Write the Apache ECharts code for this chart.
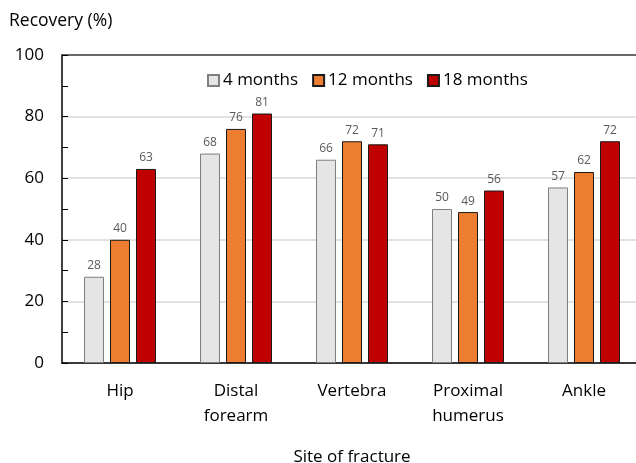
<!DOCTYPE html>
<html>
<head>
<meta charset="utf-8">
<script src="https://cdn.jsdelivr.net/npm/echarts@6/dist/echarts.min.js"></script>
<style>
  html, body { margin: 0; padding: 0; background: #fff; }
  #chart { width: 636px; height: 463px; }
</style>
</head>
<body>
<div id="chart"></div>
<script>
const sites = ["Hip", "Distal\nforearm", "Vertebra", "Proximal\nhumerus", "Ankle"];
const months4 = [28, 68, 66, 50, 57];
const months12 = [40, 76, 72, 49, 62];
const months18 = [63, 81, 71, 56, 72];
const yTicks = { min: 0, max: 100, interval: 20 };

const FONT = "Open Sans";
const chart = echarts.init(document.getElementById("chart"));

function barSeries(name, data, fill, border) {
  return {
    name: name,
    type: "bar",
    data: data,
    barWidth: 20,
    barGap: "30%",
    itemStyle: { color: fill, borderColor: border, borderWidth: 1 },
    label: {
      show: true,
      position: "top",
      distance: 5,
      color: "#595959",
      fontFamily: FONT,
      fontSize: 12
    }
  };
}

chart.setOption({
  animation: false,
  textStyle: { fontFamily: FONT },
  title: {
    text: "Recovery (%)",
    left: 4,
    top: 7,
    textStyle: { fontFamily: FONT, fontSize: 17.5, fontWeight: "normal", color: "#000" }
  },
  legend: {
    top: 67,
    left: 202,
    icon: "rect",
    itemWidth: 11,
    itemHeight: 11,
    itemGap: 14,
    textStyle: { fontFamily: FONT, fontSize: 17, color: "#000", padding: [0, 0, 0, -1] },
    data: ["4 months", "12 months", "18 months"]
  },
  grid: { left: 62, right: -6, top: 55, bottom: 100, containLabel: false, outerBoundsMode: "none" },
  xAxis: [
    {
      type: "category",
      data: sites,
      axisLine: { lineStyle: { color: "#000", width: 1.5 } },
      axisTick: { show: false },
      axisLabel: { fontFamily: FONT, fontSize: 17, color: "#000", margin: 16, lineHeight: 25 },
      name: "Site of fracture",
      nameLocation: "middle",
      nameGap: 86,
      nameTextStyle: { fontFamily: FONT, fontSize: 17, color: "#000" }
    },
    {
      type: "category",
      data: sites,
      position: "top",
      axisLine: { lineStyle: { color: "#404040", width: 1.5 } },
      axisTick: { show: false },
      axisLabel: { show: false }
    }
  ],
  yAxis: {
    type: "value",
    min: yTicks.min,
    max: yTicks.max,
    interval: yTicks.interval,
    axisLine: { show: true, lineStyle: { color: "#000", width: 1.5 } },
    axisTick: { show: true, inside: true, length: 6, lineStyle: { color: "#000" } },
    minorTick: { show: true, splitNumber: 2, length: 6, lineStyle: { color: "#000" } },
    splitLine: { lineStyle: { color: "#d9d9d9", width: 1.5 } },
    axisLabel: { fontFamily: FONT, fontSize: 17, color: "#000", margin: 18 }
  },
  series: [
    barSeries("4 months", months4, "#e5e5e5", "#7f7f7f"),
    barSeries("12 months", months12, "#ed7d31", "#1a1a1a"),
    barSeries("18 months", months18, "#c00000", "#1a1a1a")
  ]
});
</script>
</body>
</html>
